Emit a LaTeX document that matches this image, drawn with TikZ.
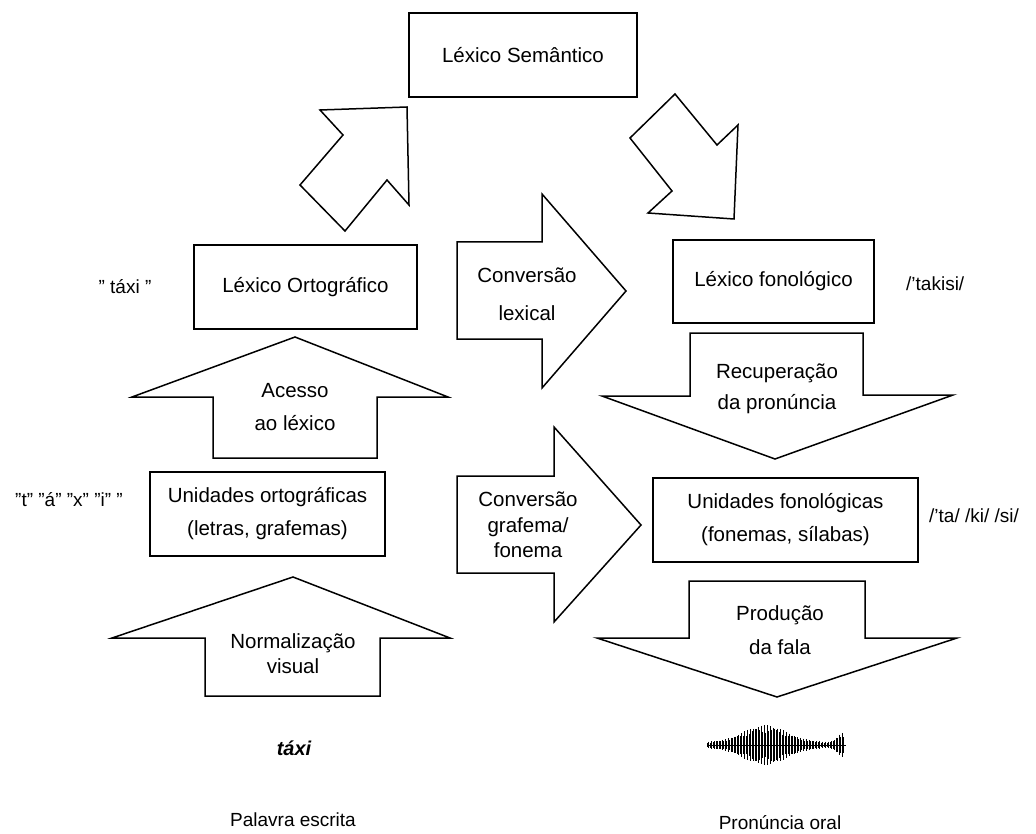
\documentclass[tikz,border=0pt]{standalone}
\usepackage{fontspec}
\setmainfont{Liberation Sans}
\begin{document}
\begin{tikzpicture}[x=1pt,y=-1pt,
  box/.style={draw,line width=1.5pt,inner sep=0pt,align=center,font=\fontsize{20.5}{33}\selectfont},
  blk/.style={draw,line width=1.5pt,line join=miter,fill=white},
  lbl/.style={inner sep=0pt,align=center},
  side/.style={inner sep=0pt,font=\fontsize{19}{22}\selectfont}]
\useasboundingbox (0,0) rectangle (1036,834);

% boxes
\node[box,minimum width=228pt,minimum height=84pt] (sem) at (523,55) {Léxico Semântico};
\node[box,minimum width=223pt,minimum height=84pt] (orto) at (305.5,287) {Léxico Ortográfico};
\node[box,minimum width=201pt,minimum height=83pt] (fon) at (773.5,281.5) {Léxico fonológico};
\node[box,minimum width=235pt,minimum height=84pt] (uorto) at (267.5,514) {Unidades ortográficas\\(letras, grafemas)};
\node[box,minimum width=265pt,minimum height=84pt] (ufon) at (785.5,520) {Unidades fonológicas\\(fonemas, sílabas)};

% diagonal block arrows
\draw[blk] (320,110) -- (407,107) -- (409,205) -- (387,180) -- (345,231) -- (300,185) -- (343,135) -- cycle;
\draw[blk] (675,94) -- (717,145) -- (738,125) -- (734,219) -- (648,213) -- (672,191) -- (630,138) -- cycle;

% up arrows
\draw[blk] (295,337) -- (448,397) -- (377,397) -- (377,458) -- (213,458) -- (213,397) -- (132,397) -- cycle;
\node[lbl,font=\fontsize{20.5}{33}\selectfont] (acesso) at (295,407) {Acesso\\ao léxico};
\draw[blk] (293,577) -- (450,638) -- (380,638) -- (380,696) -- (205,696) -- (205,638) -- (112,638) -- cycle;
\node[lbl,font=\fontsize{20.5}{25}\selectfont] (norm) at (293,654) {Normalização\\visual};

% right arrows
\draw[blk] (457,242) -- (542,242) -- (542,194) -- (626,291) -- (542,388) -- (542,339) -- (457,339) -- cycle;
\node[lbl,font=\fontsize{20.5}{38}\selectfont] (convlex) at (527,294) {Conversão\\lexical};
\draw[blk] (457,476) -- (554,476) -- (554,427) -- (641,525) -- (554,622) -- (554,573) -- (457,573) -- cycle;
\node[lbl,font=\fontsize{20.5}{25.5}\selectfont] (convgf) at (528,525) {Conversão\\grafema/\\fonema};

% down arrows
\draw[blk] (690,333) -- (863,333) -- (863,395) -- (953,395) -- (775,459) -- (602,396) -- (690,396) -- cycle;
\node[lbl,font=\fontsize{20.5}{31}\selectfont] (recup) at (777,389) {Recuperação\\da pronúncia};
\draw[blk] (689,581) -- (865,581) -- (865,638) -- (957,638) -- (777,697) -- (597,638) -- (689,638) -- cycle;
\node[lbl,font=\fontsize{20.5}{34}\selectfont] (prod) at (780,630) {Produção\\da fala};

% side labels
\node[side] (ltaxi) at (125,287) {" táxi "};
\node[side] (ltaxiletters) at (69,500) {"t" "á" "x" "i" "};
\node[side,anchor=west] (ltakisi) at (906,284) {/’takisi/};
\node[side,anchor=west] (lsil) at (929,516) {/’ta/ /ki/ /si/};
\node[inner sep=0pt,font=\fontsize{20}{24}\selectfont\bfseries\itshape] (taxi) at (294,748) {táxi};
\node[side] (palavra) at (293,820) {Palavra escrita};
\node[side] (pron) at (780,823) {Pronúncia oral};

% waveform
\draw[line width=0.8pt] (707,745) -- (846,745);
\foreach \i in {0,...,91} {
  \pgfmathsetmacro\xx{707+1.5*\i}
  \pgfmathsetmacro\hh{(3+17*exp(-((\xx-765)/30)^2)+9*exp(-((\xx-842)/7)^2))*(0.6+0.4*abs(sin(\i*97)))}
  \draw[line width=0.9pt] (\xx,{745-\hh}) -- (\xx,{745+\hh});
}
\end{tikzpicture}
\end{document}
